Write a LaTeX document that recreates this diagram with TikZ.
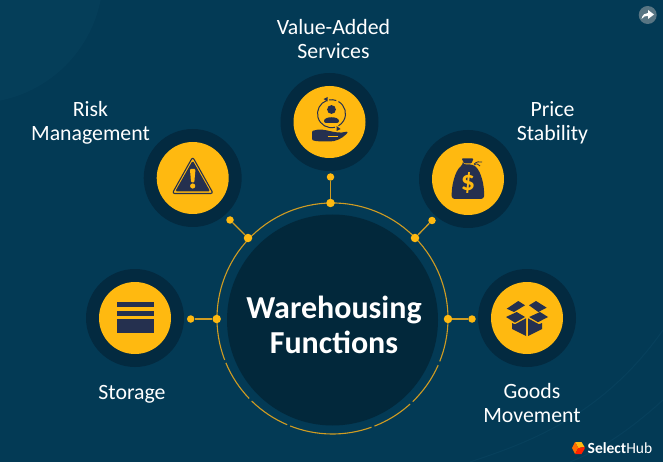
\documentclass[tikz,border=0pt]{standalone}
\usepackage{fontspec}
\setmainfont{Carlito}
\definecolor{bgc}{HTML}{033A55}
\definecolor{bgl}{HTML}{0A4561}
\definecolor{halo}{HTML}{032A40}
\definecolor{core}{HTML}{02283B}
\definecolor{gold}{HTML}{FFB910}
\definecolor{wire}{HTML}{D09C22}
\definecolor{ink}{HTML}{25304F}
\tikzset{
  x=1pt,y=-1pt,
  halodisc/.style={circle,fill=halo,minimum size=98pt,inner sep=0pt},
  golddisc/.style={circle,fill=gold,minimum size=72pt,inner sep=0pt},
  pin/.style={circle,fill=gold,minimum size=7.5pt,inner sep=0pt},
  knot/.style={circle,fill=gold,minimum size=8.5pt,inner sep=0pt},
  wireline/.style={draw=wire,line width=1.3pt},
  ringline/.style={draw=wire,line width=1.1pt},
  caption/.style={text=white,align=center,font=\fontsize{21.8}{24}\selectfont,inner sep=0pt},
  headline/.style={text=white,align=center,font=\fontsize{32}{35}\selectfont\bfseries,inner sep=0pt},
}
\begin{document}
\begin{tikzpicture}
\useasboundingbox (0,0) rectangle (663,462);
\fill[bgc] (0,0) rectangle (663,462);
\begin{scope}
\clip (0,0) rectangle (663,462);
\fill[bgl,opacity=.4] (-25,-25) circle[radius=128];
\draw[bgl,line width=1pt,opacity=.6] (663,330) .. controls (600,420) and (520,445) .. (470,462);
\draw[bgl,line width=1pt,opacity=.6] (663,400) .. controls (630,430) and (600,450) .. (570,462);
\end{scope}

% centre
\coordinate (c) at (332.5,318.5);
\node[circle,fill=core,minimum size=211pt,inner sep=0pt] (core) at (332.5,320) {};
\draw[ringline] (c) ++(159:115.5) arc[start angle=159,end angle=381.8,radius=115.5];
\draw[ringline] (c) ++(23.8:115.5) arc[start angle=23.8,end angle=46,radius=115.5];
\draw[ringline] (c) ++(47.8:115.5) arc[start angle=47.8,end angle=68.7,radius=115.5];
\draw[ringline] (c) ++(70.3:115.5) arc[start angle=70.3,end angle=111.5,radius=115.5];
\draw[ringline] (c) ++(113.1:115.5) arc[start angle=113.1,end angle=134.4,radius=115.5];
\draw[ringline] (c) ++(136.2:115.5) arc[start angle=136.2,end angle=157.4,radius=115.5];
\node[headline] (title) at (334,325) {Warehousing\\Functions};

% satellites
\node[halodisc] (hV) at (329.5,122) {}; \node[golddisc] (V) at (329.5,122) {};
\node[halodisc] (hR) at (192.7,178) {}; \node[golddisc] (R) at (192.7,178) {};
\node[halodisc] (hP) at (468,179) {};   \node[golddisc] (P) at (468,179) {};
\node[halodisc] (hS) at (135,318) {};   \node[golddisc] (S) at (135,318) {};
\node[halodisc] (hG) at (527,318) {};   \node[golddisc] (G) at (527,318) {};

% connectors
\node[pin] (oV) at (330.5,177) {};  \node[knot] (kV) at (330.5,203) {};
\node[pin] (oR) at (230,220) {};    \node[knot] (kR) at (248,238) {};
\node[pin] (oP) at (432,220.5) {};  \node[knot] (kP) at (415,238) {};
\node[pin] (oS) at (190.7,319) {};  \node[knot] (kS) at (216.7,319) {};
\node[pin] (oG) at (472,319) {};    \node[knot] (kG) at (448,319) {};
\draw[wireline] (oV) -- (kV);
\draw[wireline] (oR) -- (kR);
\draw[wireline] (oP) -- (kP);
\draw[wireline] (oS) -- (kS);
\draw[wireline] (oG) -- (kG);

% captions
\node[caption] (tV) at (333.5,39) {Value-Added\\Services};
\node[caption] (tR) at (90.5,123) {Risk\\Management};
\node[caption] (tP) at (552.5,123) {Price\\Stability};
\node[caption] (tS) at (132,394) {Storage};
\node[caption] (tG) at (532,403) {Goods\\Movement};

% storage icon
\fill[ink] (116.7,302) rectangle (154,307.3);
\fill[ink] (116.7,310.7) rectangle (154,316);
\fill[ink] (116.7,319.3) rectangle (154,332.7);

% warning icon
\begin{scope}[shift={(192.7,178)}]
\draw[ink,line width=1.1pt,line join=round,rounded corners=2.5pt] (0,-21) -- (20.5,15.5) -- (-20.5,15.5) -- cycle;
\fill[ink,rounded corners=1.5pt] (0,-17.5) -- (17.5,13.5) -- (-17.5,13.5) -- cycle;
\fill[gold,rounded corners=1pt] (-2.8,-9) -- (2.8,-9) -- (1.6,4.5) -- (-1.6,4.5) -- cycle;
\fill[gold] (0,8) circle[radius=2.6];
\end{scope}

% person in hand icon
\begin{scope}[shift={(329.5,122)}]
\draw[ink,line width=1pt] (2,-8.3) ++(-60:14) arc[start angle=-60,end angle=60,radius=14];
\draw[ink,line width=1pt] (2,-8.3) ++(75:14) arc[start angle=75,end angle=250,radius=14];
\draw[ink,line width=1pt] (2,-8.3) ++(260:14) arc[start angle=260,end angle=290,radius=14];
\fill[ink] (-6,-23) -- (-2,-25) -- (-2,-20.5) -- cycle;
\fill[ink] (11,7) -- (7,4) -- (7,9) -- cycle;
\fill[ink] (2,-12.5) circle[radius=4.4];
\fill[ink,rounded corners=2pt] (-5.5,1) .. controls (-5.5,-6) and (9.5,-6) .. (9.5,1) -- cycle;
\fill[ink,rounded corners=1pt] (-17.5,9) .. controls (-10,6.5) and (-4,8) .. (2,9.5) .. controls (6,10) and (10,11.5) .. (18,9.5) -- (18,11) .. controls (12,17) and (6,19.5) .. (-1,19.5) .. controls (-7,19) and (-12,20) .. (-17.5,18) -- cycle;
\draw[gold,line width=.6pt] (-2,14) -- (8,14);
\end{scope}

% money bag icon
\begin{scope}[shift={(468,179)}]
\fill[ink,rounded corners=1pt] (-6.5,-20.5) -- (5.5,-20.5) -- (3.5,-15.5) -- (-3.5,-15.5) -- cycle;
\fill[ink,rounded corners=3pt] (-5,-14.5) -- (5,-14.5) .. controls (13,-8) and (16.5,6) .. (16,20) -- (-16.3,20) .. controls (-16.5,6) and (-13,-8) .. (-5,-14.5) -- cycle;
\draw[ink,line width=.8pt] (6,-15) .. controls (9,-17.5) and (11,-17.5) .. (14,-17);
\draw[ink,line width=.8pt] (6,-14) .. controls (9,-16) and (10,-15) .. (12,-13);
\node[text=gold,font=\fontsize{28}{28}\selectfont\bfseries,inner sep=0pt] (dollar) at (0,4) {\$};
\end{scope}

% box icon
\begin{scope}[shift={(527,318)}]
\fill[ink] (-15,5) -- (-12,6.3) -- (-1,0.3) -- (-1,18) -- (-15,11) -- cycle;
\fill[ink] (15,5) -- (12,6.3) -- (1,0.3) -- (1,18) -- (15,11) -- cycle;
\fill[ink] (-20.3,-9.3) -- (-8.7,-17) -- (-2,-12.7) -- (-13,-6) -- cycle;
\fill[ink] (2,-12.7) -- (9,-17) -- (19.7,-10.3) -- (11.3,-6) -- cycle;
\fill[ink] (-21,-1) -- (-10.3,-6) -- (-2,-1) -- (-12,4.7) -- cycle;
\fill[ink] (2.2,-1) -- (13,-6) -- (21,-1) -- (11,4.2) -- cycle;
\end{scope}

% share badge
\node[circle,fill=gray!35!bgc!80!white,minimum size=18pt,inner sep=0pt] (share) at (647.7,15) {};
\fill[white] (641.5,19) .. controls (642.5,14.5) and (645,13) .. (648,13) -- (648,10) -- (654,14.5) -- (648,19) -- (648,16) .. controls (645.5,15.5) and (643.5,16.5) .. (641.5,19) -- cycle;

% logo
\begin{scope}[shift={(578.3,448)}]
\fill[gold] (0,0) -- (-3.2,-6) -- (3.2,-6) -- (6.2,-1) -- cycle;
\fill[orange!85!red] (0,0) -- (-3.2,-6) -- (-6.2,0) -- (-3.2,6) -- cycle;
\fill[red!75!orange] (0,0) -- (6.2,-1) -- (6.2,1) -- (3.2,6) -- (-3.2,6) -- cycle;
\end{scope}
\node[text=white,anchor=west,inner sep=0pt,font=\fontsize{15.5}{16}\selectfont] (brand) at (587.5,448.5) {\textbf{Select}Hub};
\end{tikzpicture}
\end{document}
